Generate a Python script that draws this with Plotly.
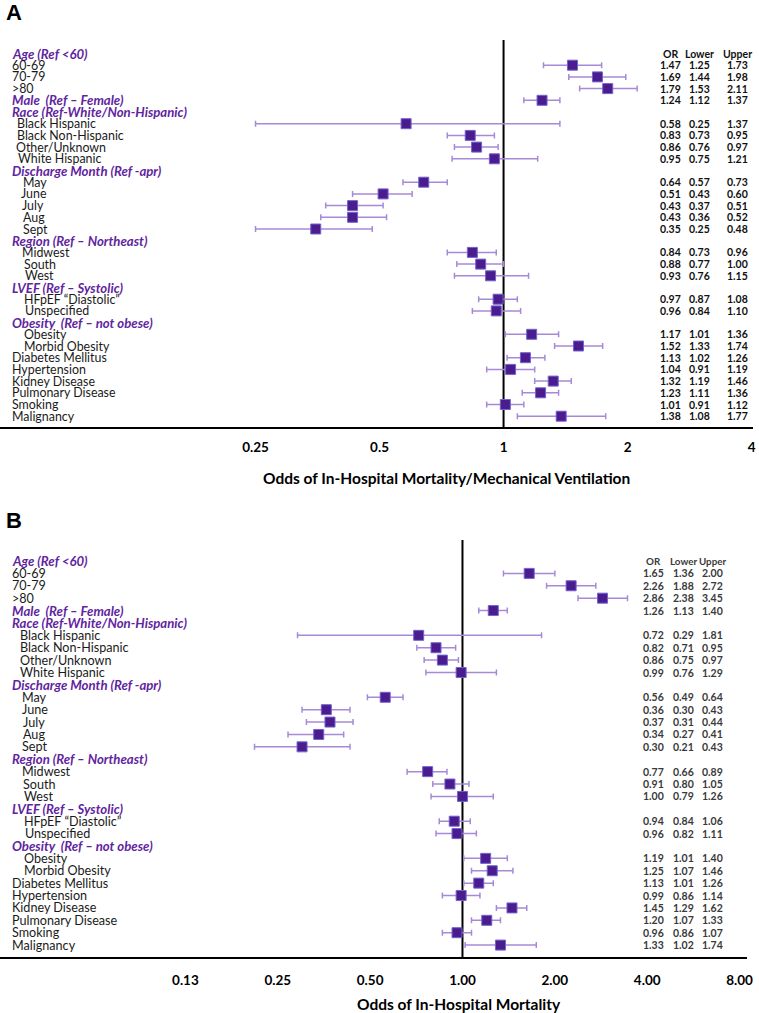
import math
import plotly.graph_objects as go

W, H = 759, 1013
SX = 0.99  # observed horizontal render factor; positions below are target pixels

# ---------------- data ----------------
row_labels = [
    "Age (Ref <60)", "60-69", "70-79", ">80", "Male  (Ref \u2013 Female)",
    "Race (Ref-White/Non-Hispanic)", "Black Hispanic", "Black Non-Hispanic",
    "Other/Unknown", "White Hispanic", "Discharge Month (Ref -apr)",
    "May", "June", "July", "Aug", "Sept", "Region (Ref \u2013 Northeast)",
    "Midwest", "South", "West", "LVEF (Ref \u2013 Systolic)",
    "HFpEF \u201cDiastolic\u201d", "Unspecified", "Obesity  (Ref \u2013 not obese)",
    "Obesity", "Morbid Obesity", "Diabetes Mellitus", "Hypertension",
    "Kidney Disease", "Pulmonary Disease", "Smoking", "Malignancy",
]
header_rows = [0, 4, 5, 10, 16, 20, 23]

# rows that carry estimates (None for pure header rows)
a_or = [None, 1.47, 1.69, 1.79, 1.24, None, 0.58, 0.83, 0.86, 0.95, None,
        0.64, 0.51, 0.43, 0.43, 0.35, None, 0.84, 0.88, 0.93, None, 0.97, 0.96,
        None, 1.17, 1.52, 1.13, 1.04, 1.32, 1.23, 1.01, 1.38]
a_lo = [None, 1.25, 1.44, 1.53, 1.12, None, 0.25, 0.73, 0.76, 0.75, None,
        0.57, 0.43, 0.37, 0.36, 0.25, None, 0.73, 0.77, 0.76, None, 0.87, 0.84,
        None, 1.01, 1.33, 1.02, 0.91, 1.19, 1.11, 0.91, 1.08]
a_hi = [None, 1.73, 1.98, 2.11, 1.37, None, 1.37, 0.95, 0.97, 1.21, None,
        0.73, 0.60, 0.51, 0.52, 0.48, None, 0.96, 1.00, 1.15, None, 1.08, 1.10,
        None, 1.36, 1.74, 1.26, 1.19, 1.46, 1.36, 1.12, 1.77]

b_or = [None, 1.65, 2.26, 2.86, 1.26, None, 0.72, 0.82, 0.86, 0.99, None,
        0.56, 0.36, 0.37, 0.34, 0.30, None, 0.77, 0.91, 1.00, None, 0.94, 0.96,
        None, 1.19, 1.25, 1.13, 0.99, 1.45, 1.20, 0.96, 1.33]
b_lo = [None, 1.36, 1.88, 2.38, 1.13, None, 0.29, 0.71, 0.75, 0.76, None,
        0.49, 0.30, 0.31, 0.27, 0.21, None, 0.66, 0.80, 0.79, None, 0.84, 0.82,
        None, 1.01, 1.07, 1.01, 0.86, 1.29, 1.07, 0.86, 1.02]
b_hi = [None, 2.00, 2.72, 3.45, 1.40, None, 1.81, 0.95, 0.97, 1.29, None,
        0.64, 0.43, 0.44, 0.41, 0.43, None, 0.89, 1.05, 1.26, None, 1.06, 1.11,
        None, 1.40, 1.46, 1.26, 1.14, 1.62, 1.33, 1.07, 1.74]

a_tickvals = [0.25, 0.5, 1, 2, 4]
a_ticktext = ["0.25", "0.5", "1", "2", "4"]
b_tickvals = [0.125, 0.25, 0.5, 1, 2, 4, 8]
b_ticktext = ["0.13", "0.25", "0.50", "1.00", "2.00", "4.00", "8.00"]

a_title = "Odds of In-Hospital Mortality/Mechanical Ventilation"
b_title = "Odds of In-Hospital Mortality"
table_header = ["OR", "Lower", "Upper"]

# ---------------- style / layout ----------------
indent_a = [10, 10, 10, 10, 10, 10, 15, 15, 14, 16, 10, 21, 19, 20, 21, 21, 10,
            20, 22, 23, 10, 22, 23, 10, 22, 22, 10, 10, 10, 10, 10, 10]
indent_b = [10, 10, 10, 10, 10, 10, 18, 18, 18, 18, 10, 20, 20, 21, 21, 20, 10,
            20, 21, 22, 10, 22, 23, 10, 22, 22, 10, 10, 10, 10, 10, 10]

PURPLE_HDR = "#5f259f"
MK_FILL = "#4a1c8e"
MK_LINE = "#7462cf"
ERR_COL = "#a68ad8"
LBL_FONT = "Lato"
WT = W * SX  # width of the target frame in layout units


def xp(px):
    return px / WT


fig = go.Figure()

panels = [
    dict(xa="x", ya="y", orv=a_or, lo=a_lo, hi=a_hi, indent=indent_a,
         top=40, bottom=427, row0=53.5, rowstep=11.7, right=755,
         px_lo=255, v_lo=0.25, px_hi=750, v_hi=4,
         tv=a_tickvals, tt=a_ticktext, title=a_title, title_xy=(446, 478),
         cols=(669, 698, 736), tcolor="#111111", tsize=10.5, hsize=10.5,
         letter="A", letter_y=13, lblsize=12.4, hdrsize=13.2, standoff=7),
    dict(xa="x2", ya="y2", orv=b_or, lo=b_lo, hi=b_hi, indent=indent_b,
         top=540, bottom=957, row0=561, rowstep=12.39, right=745,
         px_lo=185, v_lo=0.125, px_hi=738, v_hi=8,
         tv=b_tickvals, tt=b_ticktext, title=b_title, title_xy=(458, 1004),
         cols=(652, 682, 711), tcolor="#3a3a3a", tsize=10.5, hsize=9.8,
         letter="B", letter_y=520, lblsize=12.6, hdrsize=13.2, standoff=10),
]

annotations = []
layout_axes = {}
for i, p in enumerate(panels):
    rows = [r for r in range(len(row_labels)) if p["orv"][r] is not None]
    xs = [p["orv"][r] for r in rows]
    ep = [p["hi"][r] - p["orv"][r] for r in rows]
    em = [p["orv"][r] - p["lo"][r] for r in rows]

    # reference line at OR = 1
    ymin = (p["top"] - p["row0"]) / p["rowstep"]
    ymax = (p["bottom"] - p["row0"]) / p["rowstep"]
    fig.add_trace(go.Scatter(x=[1, 1], y=[ymin, ymax], mode="lines",
                             line=dict(color="black", width=2),
                             xaxis=p["xa"], yaxis=p["ya"], showlegend=False,
                             hoverinfo="skip"))
    fig.add_trace(go.Scatter(
        x=xs, y=rows, mode="markers",
        marker=dict(symbol="square", size=10, color=MK_FILL,
                    line=dict(color=MK_LINE, width=1)),
        error_x=dict(type="data", symmetric=False, array=ep, arrayminus=em,
                     color=ERR_COL, thickness=1.5, width=3),
        xaxis=p["xa"], yaxis=p["ya"], showlegend=False))

    # axis ranges from pixel calibration (target frame)
    right = min(p["right"], WT)
    ppd = (p["px_hi"] - p["px_lo"]) / (math.log2(p["v_hi"]) - math.log2(p["v_lo"]))
    l2_left = math.log2(p["v_lo"]) - p["px_lo"] / ppd
    l2_right = math.log2(p["v_lo"]) + (right - p["px_lo"]) / ppd
    xr = [l2_left * math.log10(2), l2_right * math.log10(2)]
    suffix = "" if i == 0 else "2"
    layout_axes["xaxis" + suffix] = dict(
        domain=[0, xp(right)], type="log", range=xr,
        anchor="y" + suffix, tickvals=p["tv"], ticktext=p["tt"],
        showgrid=False, zeroline=False, showline=True, linecolor="black",
        linewidth=1.5, ticks="", ticklabelstandoff=p["standoff"],
        tickfont=dict(family=LBL_FONT, size=13.5, color="black", weight="bold"))
    layout_axes["yaxis" + suffix] = dict(
        domain=[1 - p["bottom"] / H, 1 - p["top"] / H], range=[ymax, ymin],
        anchor="x" + suffix, visible=False, showgrid=False, zeroline=False)

    yref = "y" + suffix
    # row labels
    for r, lab in enumerate(row_labels):
        hdr = r in header_rows
        annotations.append(dict(
            x=xp(p["indent"][r]), xref="paper", y=r, yref=yref,
            text=f"<b><i>{lab}</i></b>" if hdr else lab, showarrow=False,
            xanchor="left", yanchor="middle",
            font=dict(family=LBL_FONT, size=p["hdrsize"] if hdr else p["lblsize"],
                      color=PURPLE_HDR if hdr else "#1a1a1a")))
    # table header
    for cx, txt in zip(p["cols"], table_header):
        annotations.append(dict(
            x=xp(cx), xref="paper", y=0, yref=yref, text=f"<b>{txt}</b>",
            showarrow=False, xanchor="center", yanchor="middle",
            font=dict(family=LBL_FONT, size=p["hsize"], color=p["tcolor"])))
    # table values
    for r in rows:
        vals = [p["orv"][r], p["lo"][r], p["hi"][r]]
        for cx, v in zip(p["cols"], vals):
            annotations.append(dict(
                x=xp(cx), xref="paper", y=r, yref=yref, text=f"<b>{v:.2f}</b>",
                showarrow=False, xanchor="center", yanchor="middle",
                font=dict(family=LBL_FONT, size=p["tsize"], color=p["tcolor"])))
    # axis title
    annotations.append(dict(
        x=xp(p["title_xy"][0]), xref="paper", y=1 - p["title_xy"][1] / H,
        yref="paper", text=f"<b>{p['title']}</b>", showarrow=False,
        xanchor="center", yanchor="middle",
        font=dict(family=LBL_FONT, size=15.5, color="black")))
    # panel letter
    annotations.append(dict(
        x=xp(4), xref="paper", y=1 - p["letter_y"] / H, yref="paper",
        text=f"<b>{p['letter']}</b>", showarrow=False, xanchor="left",
        yanchor="middle",
        font=dict(family="Liberation Sans", size=22, color="black")))

fig.update_layout(
    width=W, height=H, autosize=False,
    margin=dict(l=0, r=0, t=0, b=0),
    paper_bgcolor="white", plot_bgcolor="white",
    showlegend=False, annotations=annotations, **layout_axes)

fig.write_html("out.html", config={"displayModeBar": False},
               post_script="document.body.style.margin='0';"
                           "document.body.style.overflow='hidden';")
